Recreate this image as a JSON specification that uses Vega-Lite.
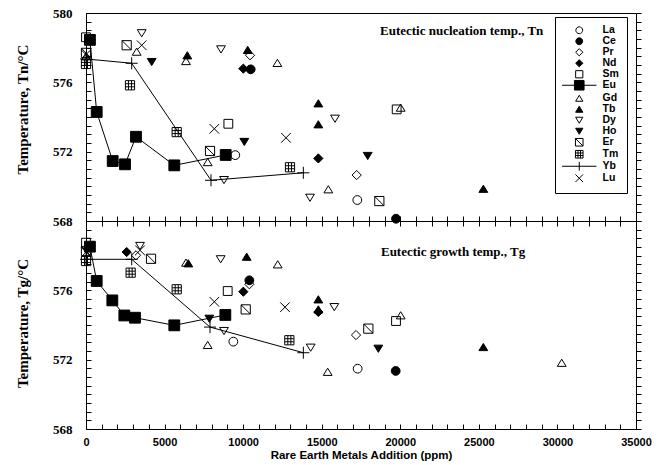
{
  "$schema": "https://vega.github.io/schema/vega-lite/v6.json",
  "background": "white",
  "padding": {"left": 14, "top": 6, "right": 5, "bottom": 5},
  "bounds": "flush",
  "spacing": 0,
  "config": {
    "view": {"stroke": "black", "strokeWidth": 1},
    "axis": {"grid": false, "domain": false, "tickColor": "black", "tickWidth": 1, "labelColor": "black", "titleColor": "black", "labelOverlap": false, "labelFlush": false},
    "legend": {"orient": "none", "legendX": 469, "legendY": 4, "title": null, "strokeColor": "black", "fillColor": "white", "padding": 8, "symbolOffset": 11, "labelOffset": 18, "rowPadding": -3.1, "symbolSize": 64, "symbolStrokeWidth": 1, "symbolOpacity": 1, "labelFont": "Liberation Sans", "labelFontWeight": "bold", "labelFontSize": 10.5, "labelColor": "black"}
  },
  "datasets": {
    "pts": [
      {"panel": "Tn", "metal": "La", "ppm": 9500, "temp": 571.8},
      {"panel": "Tn", "metal": "La", "ppm": 17266, "temp": 569.21},
      {"panel": "Tn", "metal": "Ce", "ppm": 10480, "temp": 576.75},
      {"panel": "Tn", "metal": "Ce", "ppm": 19728, "temp": 568.13},
      {"panel": "Tn", "metal": "Pr", "ppm": 10437, "temp": 577.56},
      {"panel": "Tn", "metal": "Pr", "ppm": 17224, "temp": 570.65},
      {"panel": "Tn", "metal": "Nd", "ppm": 10012, "temp": 576.79},
      {"panel": "Tn", "metal": "Nd", "ppm": 14785, "temp": 571.61},
      {"panel": "Tn", "metal": "Sm", "ppm": 0, "temp": 578.6},
      {"panel": "Tn", "metal": "Sm", "ppm": 9058, "temp": 573.61},
      {"panel": "Tn", "metal": "Sm", "ppm": 19770, "temp": 574.44},
      {"panel": "Tn", "metal": "Eu", "ppm": 250, "temp": 578.45},
      {"panel": "Tn", "metal": "Eu", "ppm": 681, "temp": 574.29},
      {"panel": "Tn", "metal": "Eu", "ppm": 1699, "temp": 571.46},
      {"panel": "Tn", "metal": "Eu", "ppm": 2482, "temp": 571.27},
      {"panel": "Tn", "metal": "Eu", "ppm": 3182, "temp": 572.86},
      {"panel": "Tn", "metal": "Eu", "ppm": 5619, "temp": 571.21},
      {"panel": "Tn", "metal": "Eu", "ppm": 8890, "temp": 571.81},
      {"panel": "Tn", "metal": "Gd", "ppm": 0, "temp": 577.5},
      {"panel": "Tn", "metal": "Gd", "ppm": 3225, "temp": 577.77},
      {"panel": "Tn", "metal": "Gd", "ppm": 6364, "temp": 577.23},
      {"panel": "Tn", "metal": "Gd", "ppm": 7743, "temp": 571.4},
      {"panel": "Tn", "metal": "Gd", "ppm": 12180, "temp": 577.12},
      {"panel": "Tn", "metal": "Gd", "ppm": 15421, "temp": 569.83},
      {"panel": "Tn", "metal": "Gd", "ppm": 20025, "temp": 574.54},
      {"panel": "Tn", "metal": "Gd", "ppm": 30336, "temp": 570.15},
      {"panel": "Tn", "metal": "Tb", "ppm": 6448, "temp": 577.56},
      {"panel": "Tn", "metal": "Tb", "ppm": 10290, "temp": 577.87},
      {"panel": "Tn", "metal": "Tb", "ppm": 14785, "temp": 574.79},
      {"panel": "Tn", "metal": "Tb", "ppm": 14785, "temp": 573.58},
      {"panel": "Tn", "metal": "Tb", "ppm": 25285, "temp": 569.86},
      {"panel": "Tn", "metal": "Dy", "ppm": 3544, "temp": 578.83},
      {"panel": "Tn", "metal": "Dy", "ppm": 8591, "temp": 577.9},
      {"panel": "Tn", "metal": "Dy", "ppm": 8782, "temp": 570.36},
      {"panel": "Tn", "metal": "Dy", "ppm": 14255, "temp": 569.34},
      {"panel": "Tn", "metal": "Dy", "ppm": 15846, "temp": 573.9},
      {"panel": "Tn", "metal": "Ho", "ppm": 4180, "temp": 577.17},
      {"panel": "Tn", "metal": "Ho", "ppm": 10075, "temp": 572.56},
      {"panel": "Tn", "metal": "Ho", "ppm": 17926, "temp": 571.75},
      {"panel": "Tn", "metal": "Er", "ppm": 0, "temp": 577.7},
      {"panel": "Tn", "metal": "Er", "ppm": 2588, "temp": 578.14},
      {"panel": "Tn", "metal": "Er", "ppm": 7891, "temp": 572.04},
      {"panel": "Tn", "metal": "Er", "ppm": 18666, "temp": 569.15},
      {"panel": "Tn", "metal": "Tm", "ppm": 0, "temp": 577.06},
      {"panel": "Tn", "metal": "Tm", "ppm": 2800, "temp": 575.83},
      {"panel": "Tn", "metal": "Tm", "ppm": 5772, "temp": 573.13},
      {"panel": "Tn", "metal": "Tm", "ppm": 12982, "temp": 571.1},
      {"panel": "Tn", "metal": "Yb", "ppm": 0, "temp": 577.35},
      {"panel": "Tn", "metal": "Yb", "ppm": 2908, "temp": 577.1},
      {"panel": "Tn", "metal": "Yb", "ppm": 7955, "temp": 570.35},
      {"panel": "Tn", "metal": "Yb", "ppm": 13830, "temp": 570.78},
      {"panel": "Tn", "metal": "Lu", "ppm": 0, "temp": 577.6},
      {"panel": "Tn", "metal": "Lu", "ppm": 3544, "temp": 578.14},
      {"panel": "Tn", "metal": "Lu", "ppm": 8167, "temp": 573.32},
      {"panel": "Tn", "metal": "Lu", "ppm": 12728, "temp": 572.8},
      {"panel": "Tg", "metal": "La", "ppm": 9376, "temp": 573.04},
      {"panel": "Tg", "metal": "La", "ppm": 17288, "temp": 571.48},
      {"panel": "Tg", "metal": "Ce", "ppm": 10395, "temp": 576.58},
      {"panel": "Tg", "metal": "Ce", "ppm": 19707, "temp": 571.35},
      {"panel": "Tg", "metal": "Pr", "ppm": 3182, "temp": 578.02},
      {"panel": "Tg", "metal": "Pr", "ppm": 10395, "temp": 576.35},
      {"panel": "Tg", "metal": "Pr", "ppm": 17182, "temp": 573.42},
      {"panel": "Tg", "metal": "Nd", "ppm": 2588, "temp": 578.21},
      {"panel": "Tg", "metal": "Nd", "ppm": 10012, "temp": 575.92},
      {"panel": "Tg", "metal": "Nd", "ppm": 14785, "temp": 574.75},
      {"panel": "Tg", "metal": "Sm", "ppm": 0, "temp": 578.75},
      {"panel": "Tg", "metal": "Sm", "ppm": 9017, "temp": 575.96},
      {"panel": "Tg", "metal": "Sm", "ppm": 19728, "temp": 574.23},
      {"panel": "Tg", "metal": "Eu", "ppm": 250, "temp": 578.52},
      {"panel": "Tg", "metal": "Eu", "ppm": 681, "temp": 576.54},
      {"panel": "Tg", "metal": "Eu", "ppm": 1676, "temp": 575.42},
      {"panel": "Tg", "metal": "Eu", "ppm": 2439, "temp": 574.55},
      {"panel": "Tg", "metal": "Eu", "ppm": 3118, "temp": 574.42},
      {"panel": "Tg", "metal": "Eu", "ppm": 5619, "temp": 573.98},
      {"panel": "Tg", "metal": "Eu", "ppm": 8867, "temp": 574.58},
      {"panel": "Tg", "metal": "Gd", "ppm": 6364, "temp": 577.6},
      {"panel": "Tg", "metal": "Gd", "ppm": 7743, "temp": 572.85},
      {"panel": "Tg", "metal": "Gd", "ppm": 12200, "temp": 577.5},
      {"panel": "Tg", "metal": "Gd", "ppm": 15379, "temp": 571.3},
      {"panel": "Tg", "metal": "Gd", "ppm": 20025, "temp": 574.56},
      {"panel": "Tg", "metal": "Gd", "ppm": 30272, "temp": 571.82},
      {"panel": "Tg", "metal": "Tb", "ppm": 6512, "temp": 577.56},
      {"panel": "Tg", "metal": "Tb", "ppm": 10225, "temp": 577.94},
      {"panel": "Tg", "metal": "Tb", "ppm": 14785, "temp": 575.48},
      {"panel": "Tg", "metal": "Tb", "ppm": 14785, "temp": 574.9},
      {"panel": "Tg", "metal": "Tb", "ppm": 25285, "temp": 572.73},
      {"panel": "Tg", "metal": "Dy", "ppm": 3437, "temp": 578.56},
      {"panel": "Tg", "metal": "Dy", "ppm": 8570, "temp": 577.79},
      {"panel": "Tg", "metal": "Dy", "ppm": 8782, "temp": 573.65},
      {"panel": "Tg", "metal": "Dy", "ppm": 14298, "temp": 572.69},
      {"panel": "Tg", "metal": "Dy", "ppm": 15803, "temp": 575.03},
      {"panel": "Tg", "metal": "Ho", "ppm": 7849, "temp": 574.36},
      {"panel": "Tg", "metal": "Ho", "ppm": 18603, "temp": 572.63},
      {"panel": "Tg", "metal": "Er", "ppm": 0, "temp": 578.27},
      {"panel": "Tg", "metal": "Er", "ppm": 4137, "temp": 577.82},
      {"panel": "Tg", "metal": "Er", "ppm": 10163, "temp": 574.9},
      {"panel": "Tg", "metal": "Er", "ppm": 17966, "temp": 573.79},
      {"panel": "Tg", "metal": "Tm", "ppm": 0, "temp": 577.69},
      {"panel": "Tg", "metal": "Tm", "ppm": 2842, "temp": 577.02},
      {"panel": "Tg", "metal": "Tm", "ppm": 5772, "temp": 576.06},
      {"panel": "Tg", "metal": "Tm", "ppm": 12940, "temp": 573.12},
      {"panel": "Tg", "metal": "Yb", "ppm": 0, "temp": 577.79},
      {"panel": "Tg", "metal": "Yb", "ppm": 2908, "temp": 577.79},
      {"panel": "Tg", "metal": "Yb", "ppm": 7891, "temp": 573.88},
      {"panel": "Tg", "metal": "Yb", "ppm": 13830, "temp": 572.4},
      {"panel": "Tg", "metal": "Lu", "ppm": 0, "temp": 578.2},
      {"panel": "Tg", "metal": "Lu", "ppm": 3437, "temp": 578.31},
      {"panel": "Tg", "metal": "Lu", "ppm": 8167, "temp": 575.34},
      {"panel": "Tg", "metal": "Lu", "ppm": 12664, "temp": 575.03}
    ],
    "labels": [
      {"panel": "Tn", "ppm": 18710, "temp": 578.96, "label": "Eutectic nucleation temp., Tn"},
      {"panel": "Tg", "ppm": 18770, "temp": 578.21, "label": "Eutectic growth temp., Tg"}
    ]
  },
  "resolve": {
    "scale": {"shape": "independent", "fill": "independent", "stroke": "independent"},
    "legend": {"shape": "independent", "fill": "independent", "stroke": "independent"}
  },
  "vconcat": [
    {
      "width": 550,
      "height": 208,
      "resolve": {
        "axis": {"x": "independent", "y": "independent"},
        "scale": {"shape": "independent", "fill": "independent", "stroke": "independent"},
        "legend": {"shape": "independent", "fill": "independent", "stroke": "independent"}
      },
      "layer": [
        {
          "data": {"name": "pts"},
          "transform": [{"filter": "datum.panel === 'Tn' && (datum.metal === 'Eu' || datum.metal === 'Yb')"}],
          "mark": {"type": "line", "color": "black", "strokeWidth": 1},
          "encoding": {
            "x": {"field": "ppm", "type": "quantitative", "scale": {"domain": [0, 35000], "nice": false}, "axis": null},
            "y": {"field": "temp", "type": "quantitative", "scale": {"domain": [568, 580], "nice": false, "zero": false},
              "axis": {"orient": "right", "values": [568,568.5,569,569.5,570,570.5,571,571.5,572,572.5,573,573.5,574,574.5,575,575.5,576,576.5,577,577.5,578,578.5,579,579.5,580], "labels": false, "tickSize": 5, "title": null}},
            "detail": {"field": "metal"},
            "order": {"field": "ppm", "type": "quantitative"}
          }
        },
        {
          "data": {"name": "pts"},
          "transform": [{"filter": "datum.panel === 'Tn'"}],
          "mark": {"type": "point", "filled": true, "opacity": 1, "stroke": "black", "strokeWidth": 1, "size": 64},
          "encoding": {
            "x": {"field": "ppm", "type": "quantitative",
              "axis": {"orient": "bottom", "values": [0,1000,2000,3000,4000,5000,6000,7000,8000,9000,10000,11000,12000,13000,14000,15000,16000,17000,18000,19000,20000,21000,22000,23000,24000,25000,26000,27000,28000,29000,30000,31000,32000,33000,34000,35000], "labels": false, "tickSize": -5, "title": null}},
            "y": {"field": "temp", "type": "quantitative",
              "axis": {"orient": "left", "values": [568,568.5,569,569.5,570,570.5,571,571.5,572,572.5,573,573.5,574,574.5,575,575.5,576,576.5,577,577.5,578,578.5,579,579.5,580], "tickSize": -5, "labelPadding": 19, "labelExpr": "datum.value % 4 === 0 ? format(datum.value, 'd') : ''", "labelFont": "Liberation Serif", "labelFontWeight": "bold", "labelFontSize": 13,
                "title": "Temperature, Tn/°C", "titleFont": "Liberation Serif", "titleFontWeight": "bold", "titleFontSize": 15, "titleX": -64, "titleY": 96, "titleAngle": 270, "titleAlign": "center", "titleBaseline": "middle"}},
            "shape": {"field": "metal", "type": "nominal",
              "scale": {"domain": ["La","Ce","Pr","Nd","Sm","Eu","Gd","Tb","Dy","Ho","Er","Tm","Yb","Lu"],
                "range": ["M1.1,0A1.1,1.1,0,1,1,-1.1,0A1.1,1.1,0,1,1,1.1,0Z","M1.1,0A1.1,1.1,0,1,1,-1.1,0A1.1,1.1,0,1,1,1.1,0Z","M0,-1.15L1.15,0L0,1.15L-1.15,0Z","M0,-1.15L1.15,0L0,1.15L-1.15,0Z","M-1.1,-1.1H1.1V1.1H-1.1Z","M-1.35,-1.35H1.35V1.35H-1.35Z","M0,-0.9L1.1,0.9H-1.1Z","M0,-0.9L1.1,0.9H-1.1Z","M0,0.9L1.1,-0.9H-1.1Z","M0,0.9L1.1,-0.9H-1.1Z","M-1.15,-1.15H1.15V1.15H-1.15Z M-1.15,-1.15L1.15,1.15","M-1.15,-1.15H1.15V1.15H-1.15Z M-1.15,-0.38H1.15 M-1.15,0.38H1.15 M-0.38,-1.15V1.15 M0.38,-1.15V1.15","M-1.5,0H1.5M0,-1.5V1.5","M-1.2,-1.2L1.2,1.2M-1.2,1.2L1.2,-1.2"]},
              "legend": null},
            "fill": {"field": "metal", "type": "nominal",
              "scale": {"domain": ["La","Ce","Pr","Nd","Sm","Eu","Gd","Tb","Dy","Ho","Er","Tm","Yb","Lu"],
                "range": ["transparent","black","transparent","black","transparent","black","transparent","black","transparent","black","transparent","transparent","transparent","transparent"]},
              "legend": null}
          }
        },
        {
          "data": {"name": "pts"},
          "transform": [{"filter": "false"}],
          "mark": {"type": "point", "filled": true, "opacity": 1, "strokeWidth": 1, "size": 64},
          "encoding": {
            "x": {"field": "ppm", "type": "quantitative", "axis": null},
            "y": {"field": "temp", "type": "quantitative", "axis": null},
            "shape": {"field": "metal", "type": "nominal",
              "scale": {"domain": ["La","Ce","Pr","Nd","Sm","Eu","Gd","Tb","Dy","Ho","Er","Tm","Yb","Lu"],
                "range": ["M0.85,0A0.85,0.85,0,1,1,-0.85,0A0.85,0.85,0,1,1,0.85,0Z","M0.85,0A0.85,0.85,0,1,1,-0.85,0A0.85,0.85,0,1,1,0.85,0Z","M0,-0.9L0.9,0L0,0.9L-0.9,0Z","M0,-0.9L0.9,0L0,0.9L-0.9,0Z","M-0.9,-0.9H0.9V0.9H-0.9Z","M-1.2,-1.2H1.2V1.2H-1.2Z M-4.3,0H4.3","M0,-0.75L0.9,0.75H-0.9Z","M0,-0.75L0.9,0.75H-0.9Z","M0,0.75L0.9,-0.75H-0.9Z","M0,0.75L0.9,-0.75H-0.9Z","M-0.95,-0.95H0.95V0.95H-0.95Z M-0.95,-0.95L0.95,0.95","M-0.95,-0.95H0.95V0.95H-0.95Z M-0.95,-0.32H0.95 M-0.95,0.32H0.95 M-0.32,-0.95V0.95 M0.32,-0.95V0.95","M-4.3,0H4.3M0,-1.1V1.1","M-0.95,-0.95L0.95,0.95M-0.95,0.95L0.95,-0.95"]}},
            "fill": {"field": "metal", "type": "nominal",
              "scale": {"domain": ["La","Ce","Pr","Nd","Sm","Eu","Gd","Tb","Dy","Ho","Er","Tm","Yb","Lu"],
                "range": ["transparent","black","transparent","black","transparent","black","transparent","black","transparent","black","transparent","transparent","transparent","transparent"]}},
            "stroke": {"field": "metal", "type": "nominal",
              "scale": {"domain": ["La","Ce","Pr","Nd","Sm","Eu","Gd","Tb","Dy","Ho","Er","Tm","Yb","Lu"],
                "range": ["black","black","black","black","black","black","black","black","black","black","black","black","black","black"]}}
          }
        },
        {
          "data": {"name": "labels"},
          "transform": [{"filter": "datum.panel === 'Tn'"}],
          "mark": {"type": "text", "align": "left", "baseline": "middle", "font": "Liberation Serif", "fontWeight": "bold", "fontSize": 13, "color": "black"},
          "encoding": {
            "x": {"field": "ppm", "type": "quantitative", "axis": null},
            "y": {"field": "temp", "type": "quantitative", "axis": null},
            "text": {"field": "label"}
          }
        }
      ]
    },
    {
      "width": 550,
      "height": 208,
      "resolve": {"axis": {"x": "independent", "y": "independent"}},
      "layer": [
        {
          "data": {"name": "pts"},
          "transform": [{"filter": "datum.panel === 'Tg' && (datum.metal === 'Eu' || datum.metal === 'Yb')"}],
          "mark": {"type": "line", "color": "black", "strokeWidth": 1},
          "encoding": {
            "x": {"field": "ppm", "type": "quantitative", "scale": {"domain": [0, 35000], "nice": false},
              "axis": {"orient": "top", "values": [0,1000,2000,3000,4000,5000,6000,7000,8000,9000,10000,11000,12000,13000,14000,15000,16000,17000,18000,19000,20000,21000,22000,23000,24000,25000,26000,27000,28000,29000,30000,31000,32000,33000,34000,35000], "labels": false, "tickSize": -5, "title": null}},
            "y": {"field": "temp", "type": "quantitative", "scale": {"domain": [568, 580], "nice": false, "zero": false},
              "axis": {"orient": "right", "values": [568,568.5,569,569.5,570,570.5,571,571.5,572,572.5,573,573.5,574,574.5,575,575.5,576,576.5,577,577.5,578,578.5,579,579.5,580], "labels": false, "tickSize": 5, "title": null}},
            "detail": {"field": "metal"},
            "order": {"field": "ppm", "type": "quantitative"}
          }
        },
        {
          "data": {"name": "pts"},
          "transform": [{"filter": "datum.panel === 'Tg'"}],
          "mark": {"type": "point", "filled": true, "opacity": 1, "stroke": "black", "strokeWidth": 1, "size": 64},
          "encoding": {
            "x": {"field": "ppm", "type": "quantitative",
              "axis": {"orient": "bottom", "values": [0,1000,2000,3000,4000,5000,6000,7000,8000,9000,10000,11000,12000,13000,14000,15000,16000,17000,18000,19000,20000,21000,22000,23000,24000,25000,26000,27000,28000,29000,30000,31000,32000,33000,34000,35000], "format": "d", "labelExpr": "datum.value % 5000 === 0 ? datum.label : ''", "tickSize": -5, "labelPadding": 12, "labelFont": "Liberation Sans", "labelFontWeight": "bold", "labelFontSize": 11,
                "title": "Rare Earth Metals Addition (ppm)", "titleFont": "Liberation Sans", "titleFontWeight": "bold", "titleFontSize": 11.5, "titlePadding": 2}},
            "y": {"field": "temp", "type": "quantitative",
              "axis": {"orient": "left", "values": [568,568.5,569,569.5,570,570.5,571,571.5,572,572.5,573,573.5,574,574.5,575,575.5,576,576.5,577,577.5,578,578.5,579,579.5,580], "tickSize": -5, "labelPadding": 19, "labelExpr": "datum.value % 4 === 0 && datum.value < 579 ? format(datum.value, 'd') : ''", "labelFont": "Liberation Serif", "labelFontWeight": "bold", "labelFontSize": 13,
                "title": "Temperature, Tg/°C", "titleFont": "Liberation Serif", "titleFontWeight": "bold", "titleFontSize": 15, "titleX": -64, "titleY": 102, "titleAngle": 270, "titleAlign": "center", "titleBaseline": "middle"}},
            "shape": {"field": "metal", "type": "nominal",
              "scale": {"domain": ["La","Ce","Pr","Nd","Sm","Eu","Gd","Tb","Dy","Ho","Er","Tm","Yb","Lu"],
                "range": ["M1.1,0A1.1,1.1,0,1,1,-1.1,0A1.1,1.1,0,1,1,1.1,0Z","M1.1,0A1.1,1.1,0,1,1,-1.1,0A1.1,1.1,0,1,1,1.1,0Z","M0,-1.15L1.15,0L0,1.15L-1.15,0Z","M0,-1.15L1.15,0L0,1.15L-1.15,0Z","M-1.1,-1.1H1.1V1.1H-1.1Z","M-1.35,-1.35H1.35V1.35H-1.35Z","M0,-0.9L1.1,0.9H-1.1Z","M0,-0.9L1.1,0.9H-1.1Z","M0,0.9L1.1,-0.9H-1.1Z","M0,0.9L1.1,-0.9H-1.1Z","M-1.15,-1.15H1.15V1.15H-1.15Z M-1.15,-1.15L1.15,1.15","M-1.15,-1.15H1.15V1.15H-1.15Z M-1.15,-0.38H1.15 M-1.15,0.38H1.15 M-0.38,-1.15V1.15 M0.38,-1.15V1.15","M-1.5,0H1.5M0,-1.5V1.5","M-1.2,-1.2L1.2,1.2M-1.2,1.2L1.2,-1.2"]},
              "legend": null},
            "fill": {"field": "metal", "type": "nominal",
              "scale": {"domain": ["La","Ce","Pr","Nd","Sm","Eu","Gd","Tb","Dy","Ho","Er","Tm","Yb","Lu"],
                "range": ["transparent","black","transparent","black","transparent","black","transparent","black","transparent","black","transparent","transparent","transparent","transparent"]},
              "legend": null}
          }
        },
        {
          "data": {"name": "labels"},
          "transform": [{"filter": "datum.panel === 'Tg'"}],
          "mark": {"type": "text", "align": "left", "baseline": "middle", "font": "Liberation Serif", "fontWeight": "bold", "fontSize": 13, "color": "black"},
          "encoding": {
            "x": {"field": "ppm", "type": "quantitative", "axis": null},
            "y": {"field": "temp", "type": "quantitative", "axis": null},
            "text": {"field": "label"}
          }
        }
      ]
    }
  ]
}
